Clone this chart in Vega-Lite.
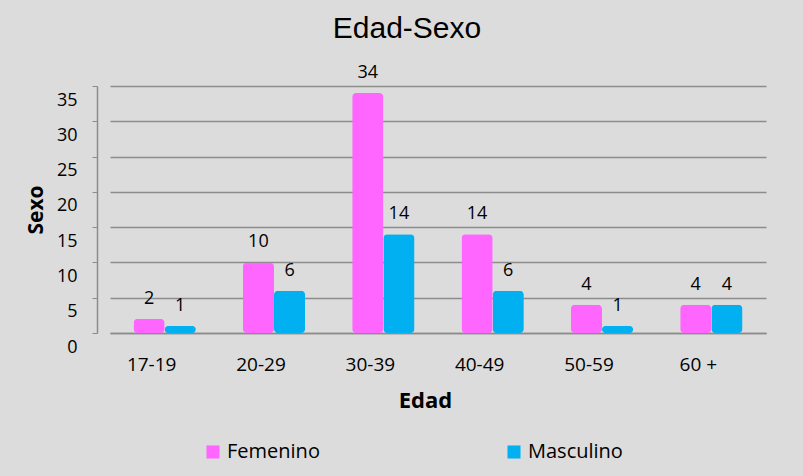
{
  "$schema": "https://vega.github.io/schema/vega-lite/v6.json",
  "width": 656,
  "height": 247,
  "autosize": {"type": "none"},
  "padding": {"left": 110, "top": 86, "right": 37, "bottom": 143},
  "background": "#dcdcdc",
  "config": {"font": "Open Sans", "view": {"stroke": null}},
  "title": {"text": "Edad-Sexo", "font": "Liberation Sans", "fontSize": 30, "fontWeight": "normal", "color": "#000000", "anchor": "middle", "frame": "group", "dx": -31, "offset": 20},
  "data": {
    "values": [
      {"edad": "17-19", "sexo": "Femenino", "valor": 2},
      {"edad": "17-19", "sexo": "Masculino", "valor": 1},
      {"edad": "20-29", "sexo": "Femenino", "valor": 10},
      {"edad": "20-29", "sexo": "Masculino", "valor": 6},
      {"edad": "30-39", "sexo": "Femenino", "valor": 34},
      {"edad": "30-39", "sexo": "Masculino", "valor": 14},
      {"edad": "40-49", "sexo": "Femenino", "valor": 14},
      {"edad": "40-49", "sexo": "Masculino", "valor": 6},
      {"edad": "50-59", "sexo": "Femenino", "valor": 4},
      {"edad": "50-59", "sexo": "Masculino", "valor": 1},
      {"edad": "60 +", "sexo": "Femenino", "valor": 4},
      {"edad": "60 +", "sexo": "Masculino", "valor": 4}
    ]
  },
  "encoding": {
    "x": {
      "field": "edad", "type": "nominal", "sort": null,
      "scale": {"paddingInner": 0.43, "paddingOuter": 0.215},
      "axis": {
        "title": "Edad", "titleFontSize": 22, "titleFontWeight": "bold", "titleColor": "#000000",
        "titlePadding": 16, "titleX": 315,
        "labelAngle": 0, "labelFontSize": 19, "labelColor": "#000000", "labelOffset": -13,
        "ticks": false, "tickSize": 0, "labelPadding": 22,
        "domainColor": "#8c8c8c", "domainWidth": 1.5, "grid": false
      }
    },
    "xOffset": {"field": "sexo", "type": "nominal", "sort": ["Femenino", "Masculino"], "scale": {"paddingInner": 0}},
    "y": {
      "field": "valor", "type": "quantitative",
      "scale": {"domain": [0, 35]},
      "axis": {
        "title": "Sexo", "titleFontSize": 21, "titleFontWeight": "bold", "titleColor": "#000000", "titlePadding": 10,
        "values": [0, 5, 10, 15, 20, 25, 30, 35],
        "labelFontSize": 18, "labelColor": "#000000", "labelOffset": 14,
        "offset": 13, "tickSize": 5, "labelPadding": 15,
        "tickColor": "#8c8c8c", "domainColor": "#8c8c8c", "domainWidth": 1.5,
        "grid": true, "gridColor": "#8c8c8c", "gridWidth": 1.5
      }
    }
  },
  "layer": [
    {
      "mark": {"type": "bar", "cornerRadius": 4},
      "encoding": {
        "color": {
          "field": "sexo", "type": "nominal",
          "scale": {"domain": ["Femenino", "Masculino"], "range": ["#ff66ff", "#00b0f0"]},
          "legend": {
            "orient": "none", "legendX": 93, "legendY": 356, "direction": "horizontal", "title": null,
            "symbolType": "square", "symbolSize": 170, "symbolStrokeWidth": 0,
            "labelFontSize": 20, "labelColor": "#000000", "columnPadding": 184
          }
        }
      }
    },
    {
      "mark": {"type": "text", "baseline": "alphabetic", "dy": -15, "fontSize": 18, "color": "#000000"},
      "encoding": {"text": {"field": "valor", "type": "quantitative"}}
    }
  ]
}
